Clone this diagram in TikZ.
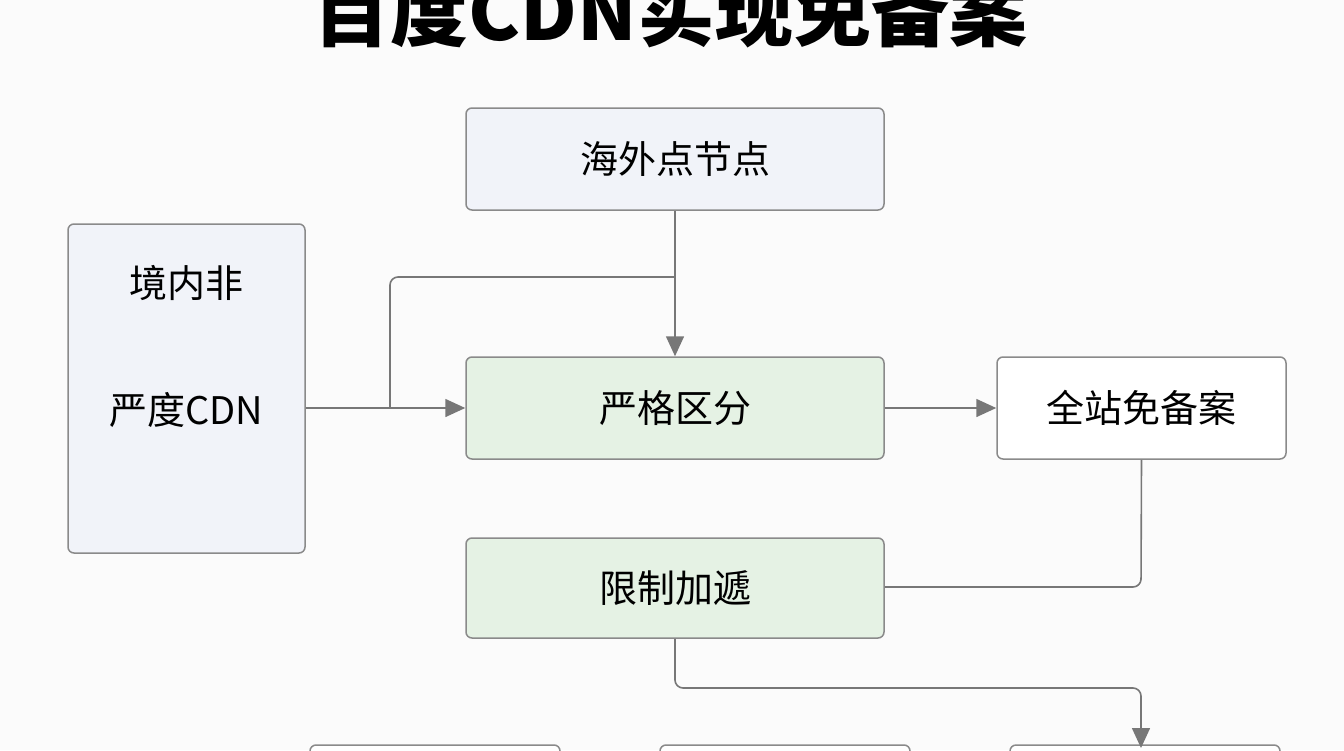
\documentclass[tikz,border=0pt]{standalone}
\usepackage{fontspec}
\setmainfont{Noto Sans CJK SC}
\usetikzlibrary{arrows.meta}
\definecolor{boxline}{HTML}{8A8A8A}
\definecolor{arrowgray}{HTML}{777777}
\definecolor{bluefill}{HTML}{F1F3F9}
\definecolor{greenfill}{HTML}{E5F2E4}
\tikzset{
  box/.style={draw=boxline, line width=1.5pt, rounded corners=6pt, font=\fontsize{38}{44}\selectfont, inner sep=0pt},
  link/.style={draw=arrowgray, line width=1.6pt, rounded corners=8pt},
  arr/.style={link, -{Triangle[length=20pt,width=18pt]}}
}
\begin{document}
\begin{tikzpicture}[x=1pt,y=-1pt]
        \useasboundingbox (0,0) rectangle (1344,750);
        \clip (0,0) rectangle (1344,750);
        \fill[white!97!gray] (0,0) rectangle (1344,750);
        \node (title) at (670,10) {\fontsize{78}{80}\selectfont\bfseries 百度CDN实现免备案};
        \node[box, fill=bluefill, minimum width=418pt, minimum height=102pt] (hw) at (675,159) {海外点节点};
        \node[box, fill=bluefill, minimum width=237pt, minimum height=329pt] (jn) at (186.5,388.5) {};
        \node (jn1) at (186.5,283) {\fontsize{38}{44}\selectfont 境内非};
        \node (jn2) at (186.5,410) {\fontsize{38}{44}\selectfont 严度CDN};
        \node[box, fill=greenfill, minimum width=418pt, minimum height=102pt] (yg) at (675,408) {严格区分};
        \node[box, fill=white, minimum width=289pt, minimum height=102pt] (qz) at (1141.5,408) {全站免备案};
        \node[box, fill=greenfill, minimum width=418pt, minimum height=100pt] (xz) at (675,588) {限制加遞};
        \node[box, fill=white, minimum width=250pt, minimum height=80pt] (b1) at (435,785) {};
        \node[box, fill=white, minimum width=250pt, minimum height=80pt] (b2) at (785,785) {};
        \node[box, fill=white, minimum width=270pt, minimum height=80pt] (b3) at (1145,785) {};
        \coordinate (split) at (390,408);
        \draw[arr] (hw.south) -- (yg.north);
        \draw[arr] (jn.east |- yg) -- (yg.west);
        \draw[link] (split) -- (390,277) -- (675,277);
        \draw[arr] (yg.east) -- (qz.west);
        \draw[link] (qz.south) -- (1141,587) -- (xz.east |- 0,587);
        \draw[arr] (xz.south) -- (675,688) -- (1141,688) -- (1141,748);
\end{tikzpicture}
\end{document}
